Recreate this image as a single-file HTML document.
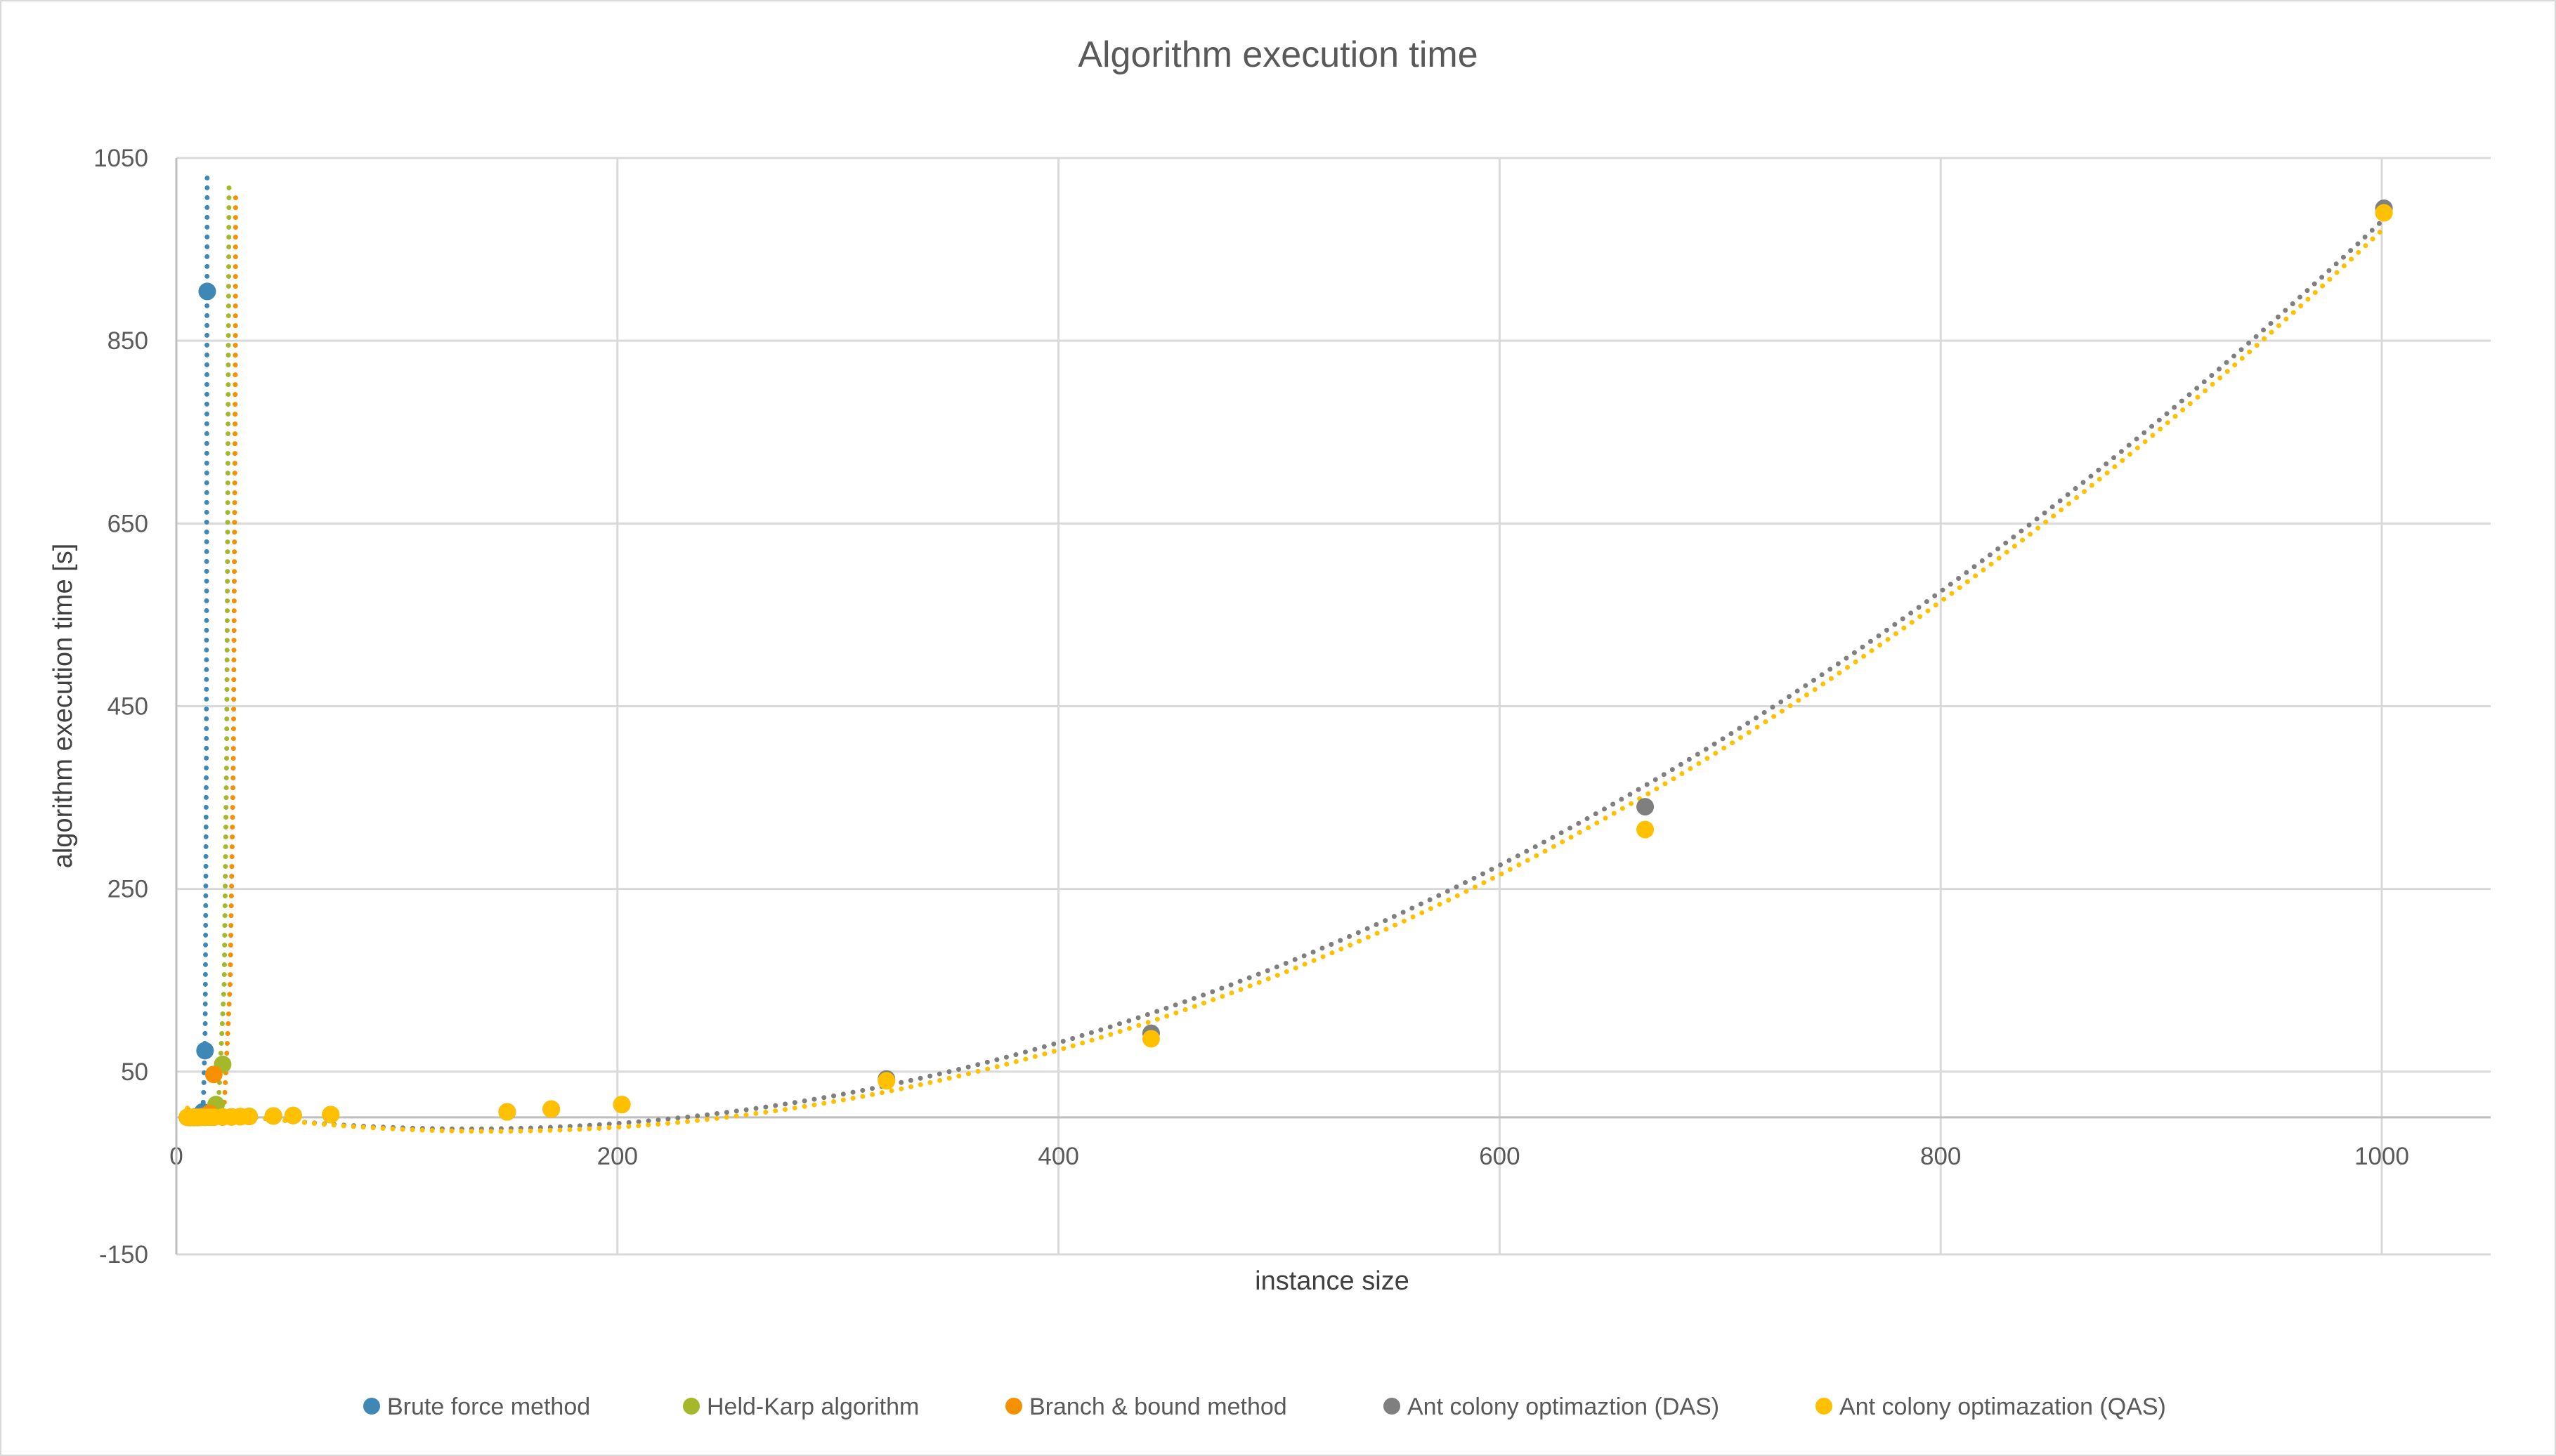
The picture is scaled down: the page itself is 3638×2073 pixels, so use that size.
<!DOCTYPE html>
<html><head><meta charset="utf-8">
<style>
html,body{margin:0;padding:0;background:#fff;}
svg{display:block;font-family:"Liberation Sans",sans-serif;}
</style></head>
<body>
<svg id="chart" width="3638" height="2073" viewBox="0 0 3638 2073" xmlns="http://www.w3.org/2000/svg">
<rect x="1" y="1" width="3636" height="2071" fill="#fff" stroke="#d9d9d9" stroke-width="2"/>
<text x="1819" y="95" font-size="52" fill="#595959" text-anchor="middle">Algorithm execution time</text>
<text transform="translate(102,1005) rotate(-90)" font-size="38" fill="#404040" text-anchor="middle">algorithm execution time [s]</text>
<text x="1896" y="1836" font-size="38" fill="#404040" text-anchor="middle">instance size</text>
<g id="grid"></g>
<g id="axes"></g>
<g id="trends"></g>
<g id="points"></g>
<g id="legend"></g>
</svg>
<script>
const xTicks = [0,200,400,600,800,1000];
const yTicks = [1050,850,650,450,250,50,-150];
const bfX = [6,8,10,11,12,13,14];
const bfY = [0.001,0.01,0.05,0.4,6,73,904];
const hkX = [6,8,10,12,14,16,18,21];
const hkY = [0.003,0.01,0.05,0.2,0.9,3.5,14,58];
const bbX = [6,8,10,12,14,15,17];
const bbY = [0.15,0.25,0.5,1,2,4.5,47];
const acoX = [5,7,9,11,13,15,17,21,25,29,33,44,53,70,150,170,202,322,442,666,1001];
const dasY = [0,0,0,0.1,0.1,0.2,0.2,0.4,0.5,0.8,1,1.5,2,3,6,9,14,42,92,340,995];
const qasY = [0,0,0,0.1,0.1,0.2,0.2,0.4,0.5,0.8,1,1.5,2,3,6,9,14,40,86,315,990];
// trendlines of exact algorithms (data units)
const bfTrendX = [11.5,12.3,13.1,13.6,14.0];
const bfTrendY = [-5,20,100,400,1030];
const hkTrendX = [18.5,19.1,21.7,22.8,23.6,23.9];
const hkTrendY = [-5,15,147,400,846,1020];
const bbTrendX = [21.0,21.7,24.4,25.9,26.8,26.9];
const bbTrendY = [-5,12,147,400,850,1012];
const seriesNames = ["Brute force method","Held-Karp algorithm","Branch & bound method","Ant colony optimaztion (DAS)","Ant colony optimazation (QAS)"];
const colors = ["#3f87b5","#a5b82c","#f59100","#7f7f7f","#ffc000"];

const NS="http://www.w3.org/2000/svg";
const X0=251, XS=3.139, PR=3545;
const xp=v=>X0+v*XS;
const yp=v=>225+(1050-v)*1.3008;
function mk(tag,attrs,parent){const e=document.createElementNS(NS,tag);for(const k in attrs)e.setAttribute(k,attrs[k]);parent.appendChild(e);return e;}
const grid=document.getElementById('grid'), axes=document.getElementById('axes');
yTicks.forEach(v=>{
  const l=mk('line',{x1:X0,x2:PR,y1:yp(v),y2:yp(v),stroke:'#d9d9d9','stroke-width':3},grid);
  
  
  const t=mk('text',{x:211,y:yp(v)+12,'font-size':35,fill:'#595959','text-anchor':'end'},axes);
  t.textContent=v;
  
  
});
xTicks.forEach(v=>{
  if(v>0){const l=mk('line',{x1:xp(v),x2:xp(v),y1:yp(1050),y2:yp(-150),stroke:'#d9d9d9','stroke-width':3},grid);
  
  }
  const t=mk('text',{x:xp(v),y:1658,'font-size':35,fill:'#595959','text-anchor':'middle'},axes);
  t.textContent=v;
  
  
});
let a=mk('line',{x1:X0,x2:X0,y1:yp(1050),y2:yp(-150),stroke:'#bfbfbf','stroke-width':3},axes);


a=mk('line',{x1:X0,x2:PR,y1:yp(0),y2:yp(0),stroke:'#bfbfbf','stroke-width':3},axes);



const trends=document.getElementById('trends');
function polyFit(xs,ys){let S=[0,0,0,0,0],T=[0,0,0];xs.forEach((x,i)=>{for(let k=0;k<5;k++)S[k]+=x**k;for(let k=0;k<3;k++)T[k]+=ys[i]*x**k;});
 const M=[[S[0],S[1],S[2],T[0]],[S[1],S[2],S[3],T[1]],[S[2],S[3],S[4],T[2]]];
 for(let i=0;i<3;i++){for(let j=i+1;j<3;j++){const f=M[j][i]/M[i][i];for(let k=i;k<4;k++)M[j][k]-=f*M[i][k];}}
 const c=[0,0,0];for(let i=2;i>=0;i--){let s=M[i][3];for(let k=i+1;k<3;k++)s-=M[i][k]*c[k];c[i]=s/M[i][i];}
 return x=>c[0]+c[1]*x+c[2]*x*x;}
function pathFrom(pts,color,name){
 const p=mk('path',{d:'M'+pts.map(q=>q[0].toFixed(1)+','+q[1].toFixed(1)).join('L'),fill:'none',stroke:color,'stroke-width':7,'stroke-dasharray':'0 14','stroke-linecap':'round'},trends);
 
 }
function drawPoly(f,x0,x1,color,name){const pts=[];const N=600;for(let i=0;i<=N;i++){const x=x0+(x1-x0)*i/N;pts.push([xp(x),yp(f(x))]);}pathFrom(pts,color,name);}
function drawArr(xs,ys,color,name){pathFrom(xs.map((x,i)=>[xp(x),yp(ys[i])]),color,name);}
drawArr(bfTrendX,bfTrendY,colors[0],'brute-force-trendline');
drawArr(hkTrendX,hkTrendY,colors[1],'held-karp-trendline');
drawArr(bbTrendX,bbTrendY,colors[2],'branch-bound-trendline');
drawPoly(polyFit(acoX,dasY),acoX[0],acoX[acoX.length-1],colors[3],'das-trendline');
drawPoly(polyFit(acoX,qasY),acoX[0],acoX[acoX.length-1],colors[4],'qas-trendline');

const pts=document.getElementById('points');
function drawPts(xs,ys,color,name){xs.forEach((x,i)=>{const c=mk('circle',{cx:xp(x),cy:yp(ys[i]),r:12.5,fill:color},pts);
 
 });}
drawPts(bfX,bfY,colors[0],'brute-force-point');
drawPts(hkX,hkY,colors[1],'held-karp-point');
drawPts(bbX,bbY,colors[2],'branch-bound-point');
drawPts(acoX,dasY,colors[3],'das-point');
drawPts(acoX,qasY,colors[4],'qas-point');

const legend=document.getElementById('legend');
const legX=[529,984,1443,1981,2596];
seriesNames.forEach((n,i)=>{
 const c=mk('circle',{cx:legX[i],cy:2002,r:12,fill:colors[i]},legend);
 
 
 const t=mk('text',{x:legX[i]+22,y:2014,'font-size':34,fill:'#595959'},legend);
 t.textContent=n;
 
 
});
</script>
</body></html>
